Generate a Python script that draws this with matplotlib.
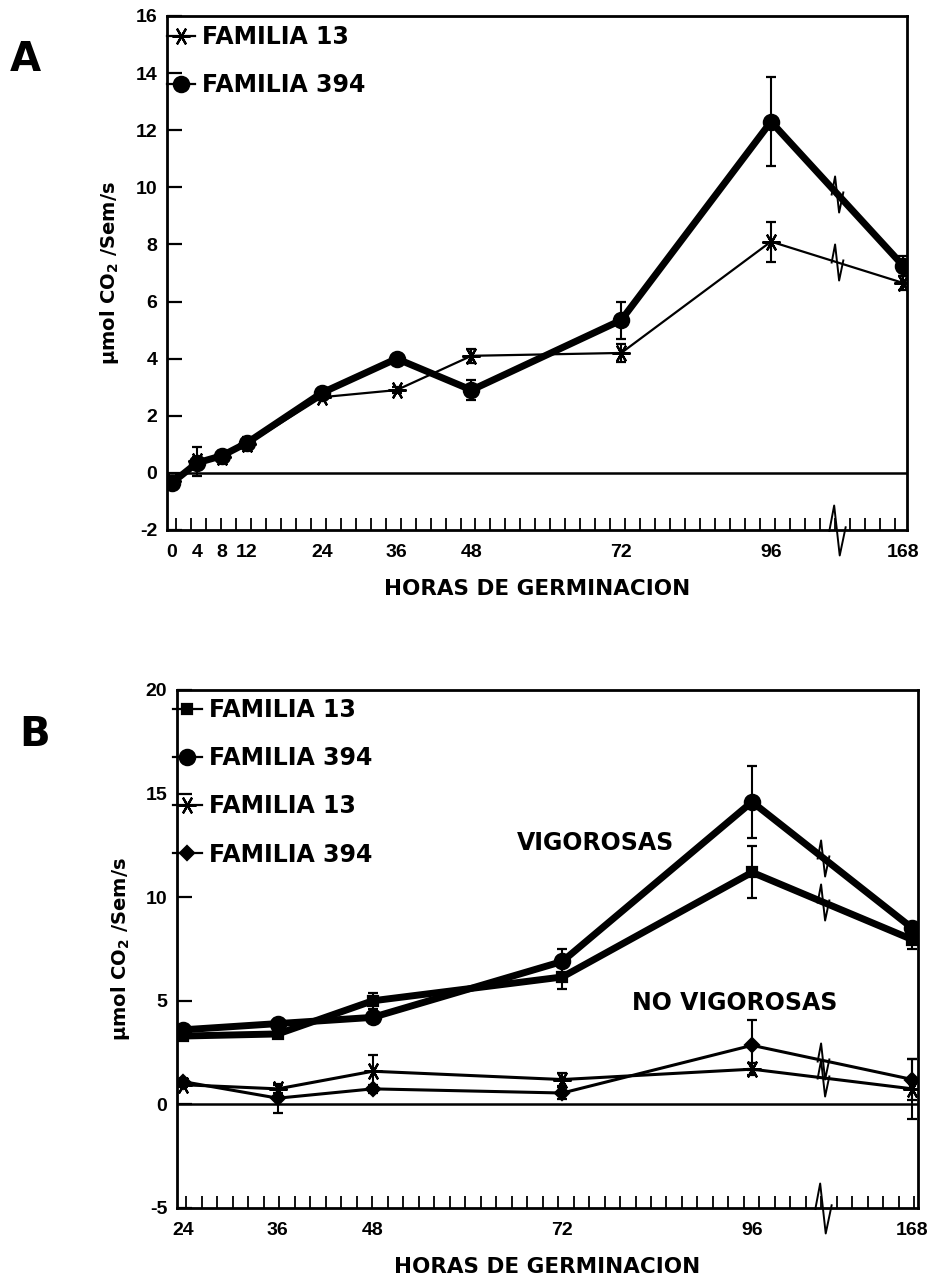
import numpy as np
import matplotlib
matplotlib.use('Agg')
import matplotlib.pyplot as plt
from matplotlib.path import Path
from matplotlib.lines import Line2D

plt.rcParams['font.family'] = ['DejaVu Sans']
plt.rcParams['mathtext.default'] = 'bf'

# ---------------- data ----------------
hours_a = [0, 4, 8, 12, 24, 36, 48, 72, 96, 168]
a_f13 = [-0.3, 0.4, 0.55, 1.0, 2.65, 2.9, 4.1, 4.2, 8.1, 6.65]
a_f13_err = [0.0, 0.5, 0.1, 0.1, 0.1, 0.1, 0.25, 0.3, 0.7, 0.25]
a_f394 = [-0.35, 0.35, 0.6, 1.05, 2.8, 4.0, 2.9, 5.35, 12.3, 7.25]
a_f394_err = [0.15, 0.2, 0.1, 0.2, 0.1, 0.1, 0.35, 0.65, 1.55, 0.35]

hours_b = [24, 36, 48, 72, 96, 168]
b_vig13 = [3.3, 3.4, 5.0, 6.15, 11.2, 7.95]
b_vig13_err = [0.15, 0.1, 0.4, 0.6, 1.25, 0.45]
b_vig394 = [3.6, 3.9, 4.2, 6.9, 14.6, 8.5]
b_vig394_err = [0.2, 0.2, 0.2, 0.6, 1.75, 0.3]
b_no13 = [0.95, 0.75, 1.6, 1.2, 1.7, 0.75]
b_no13_err = [0.1, 0.2, 0.8, 0.3, 0.3, 1.45]
b_no394 = [1.1, 0.3, 0.75, 0.55, 2.85, 1.2]
b_no394_err = [0.15, 0.7, 0.2, 0.3, 1.2, 1.0]

labels_a = ['FAMILIA 13', 'FAMILIA 394']
labels_b = ['FAMILIA 13', 'FAMILIA 394', 'FAMILIA 13', 'FAMILIA 394']
yticks_a = [-2, 0, 2, 4, 6, 8, 10, 12, 14, 16]
yticks_b = [-5, 0, 5, 10, 15, 20]
xlabel = 'HORAS DE GERMINACION'
ylabel = 'μmol CO$_2$ /Sem/s'

TICKFONT = ['Liberation Sans', 'DejaVu Sans']

# --------------- broken-axis scale ---------------
def make_pos(pos168):
    return lambda h: np.array([v if v <= 96 else pos168 for v in h], float)

POS168_A, BREAK_A = 117.2, 106.6
POS168_B, BREAK_B = 116.3, 105.0
pos_a = make_pos(POS168_A)
pos_b = make_pos(POS168_B)

brk = Path([(-0.30, -0.05), (-0.12, 0.9), (0.08, -0.9), (0.30, 0.15)],
           [Path.MOVETO, Path.LINETO, Path.LINETO, Path.LINETO])
asterisk = (6, 2, 90)

fig = plt.figure(figsize=(9.32, 12.84), dpi=100)

def style_axes(ax, xmin, xmax, ymin, ymax, yticks, xt_pos, xt_lab, minor_step, ylab_x):
    ax.set_xlim(xmin, xmax)
    ax.set_ylim(ymin, ymax)
    for s in ax.spines.values():
        s.set_linewidth(2.0)
    ax.set_yticks(yticks)
    ax.set_yticklabels([str(t) for t in yticks], fontsize=14, fontweight='bold',
                       family=TICKFONT)
    ax.set_xticks(xt_pos)
    ax.set_xticklabels(xt_lab, fontsize=14, fontweight='bold', family=TICKFONT)
    ax.set_xticks(np.arange(xmin + minor_step * 0.6, xmax, minor_step), minor=True)
    ax.tick_params(axis='y', direction='in', length=11, width=1.6, pad=7)
    ax.tick_params(axis='x', which='major', length=0, pad=10)
    ax.tick_params(axis='x', which='minor', direction='in', length=9, width=1.3)
    ax.axhline(0, color='black', lw=1.8, zorder=1)
    ax.set_xlabel(xlabel, fontsize=15.5, fontweight='bold', labelpad=13)
    ax.set_ylabel(ylabel, fontsize=14, fontweight='bold')
    ax.yaxis.set_label_coords(ylab_x, 0.5)

def series(ax, pos, h, y, e, marker, ms, lw):
    ax.errorbar(pos(h), y, yerr=e, color='black', lw=lw, marker=marker, ms=ms,
                mfc='black', mec='black', mew=1.6, ecolor='black', elinewidth=1.5,
                capsize=3.5, capthick=1.5, zorder=3)
    return Line2D([], [], color='black', lw=1.6, marker=marker, ms=ms,
                  mfc='black', mec='black', mew=1.6)

def line_break(ax, pos, h, y, xb):
    p = pos(h)
    yb = np.interp(xb, p[-2:], y[-2:])
    ax.plot([xb], [yb], marker=brk, ms=26, mfc='none', mec='black', mew=1.4,
            ls='none', zorder=4)

def axis_break(ax, xb, ymin):
    ax.plot([xb], [ymin], marker=brk, ms=36, mfc='none', mec='black', mew=1.4,
            ls='none', zorder=5, clip_on=False)

def legend(ax, handles, labels, x, y):
    ax.legend(handles, labels, loc='upper left', bbox_to_anchor=(x, y),
              frameon=False, prop={'weight': 'bold', 'size': 17}, handlelength=1.2,
              handletextpad=0.3, labelspacing=1.02, borderpad=0, borderaxespad=0)

# ---------------- Panel A ----------------
axA = fig.add_axes([167 / 932, 1 - 530 / 1284, (907 - 167) / 932, (530 - 16) / 1284])
style_axes(axA, -0.8, 117.8, -2, 16, yticks_a, pos_a(hours_a),
           [str(h) for h in hours_a], 2.4, -0.062)
hA = [series(axA, pos_a, hours_a, a_f13, a_f13_err, asterisk, 13, 1.6),
      series(axA, pos_a, hours_a, a_f394, a_f394_err, 'o', 11, 5.0)]
line_break(axA, pos_a, hours_a, a_f13, BREAK_A)
line_break(axA, pos_a, hours_a, a_f394, BREAK_A)
axis_break(axA, BREAK_A, -2)
legend(axA, hA, labels_a, 0.0, 0.982)
fig.text(25 / 932, 1 - 60 / 1284, 'A', fontsize=29, fontweight='bold',
         ha='center', va='center')

# ---------------- Panel B ----------------
axB = fig.add_axes([177 / 932, 1 - 1208 / 1284, (918 - 177) / 932, (1208 - 690) / 1284])
style_axes(axB, 23.24, 117.0, -5, 20, yticks_b, pos_b(hours_b),
           [str(h) for h in hours_b], 1.96, -0.061)
hB = [series(axB, pos_b, hours_b, b_vig13, b_vig13_err, 's', 7, 5.0),
      series(axB, pos_b, hours_b, b_vig394, b_vig394_err, 'o', 11, 5.0),
      series(axB, pos_b, hours_b, b_no13, b_no13_err, asterisk, 13, 2.2),
      series(axB, pos_b, hours_b, b_no394, b_no394_err, 'D', 7, 2.2)]
for yy in (b_vig13, b_vig394, b_no13, b_no394):
    line_break(axB, pos_b, hours_b, yy, BREAK_B)
axis_break(axB, BREAK_B, -5)
legend(axB, hB, labels_b, -0.005, 0.984)
axB.text(0.565, 0.705, 'VIGOROSAS', transform=axB.transAxes, fontsize=17,
         fontweight='bold', ha='center', va='center')
axB.text(0.752, 0.395, 'NO VIGOROSAS', transform=axB.transAxes, fontsize=17,
         fontweight='bold', ha='center', va='center')
fig.text(35 / 932, 1 - 735 / 1284, 'B', fontsize=29, fontweight='bold',
         ha='center', va='center')

fig.savefig('out.png', dpi=100)
